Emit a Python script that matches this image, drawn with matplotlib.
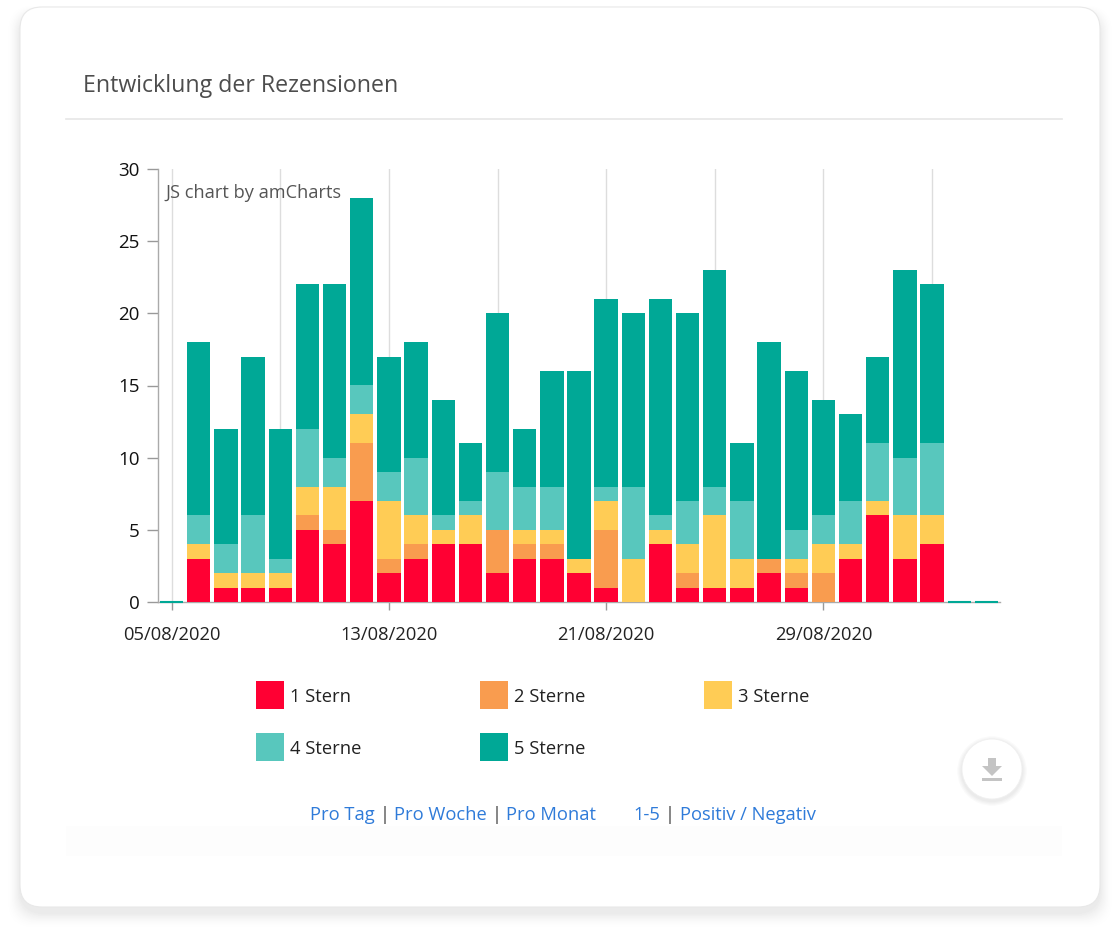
import matplotlib
matplotlib.use('Agg')
import matplotlib.pyplot as plt
from matplotlib.patches import Circle, FancyBboxPatch, Polygon, Rectangle
import numpy as np

plt.rcParams['font.family'] = ['Open Sans', 'DejaVu Sans']

W, H = 1120, 941

# 05/08/2020 - 04/09/2020
tage = ['05/08/2020', '06/08/2020', '07/08/2020', '08/08/2020', '09/08/2020', '10/08/2020', '11/08/2020', '12/08/2020',
        '13/08/2020', '14/08/2020', '15/08/2020', '16/08/2020', '17/08/2020', '18/08/2020', '19/08/2020', '20/08/2020',
        '21/08/2020', '22/08/2020', '23/08/2020', '24/08/2020', '25/08/2020', '26/08/2020', '27/08/2020', '28/08/2020',
        '29/08/2020', '30/08/2020', '31/08/2020', '01/09/2020', '02/09/2020', '03/09/2020', '04/09/2020']

stern1 = [0, 3, 1, 1, 1, 5, 4, 7, 2, 3, 4, 4, 2, 3, 3, 2, 1, 0, 4, 1, 1, 1, 2, 1, 0, 3, 6, 3, 4, 0, 0]
stern2 = [0, 0, 0, 0, 0, 1, 1, 4, 1, 1, 0, 0, 3, 1, 1, 0, 4, 0, 0, 1, 0, 0, 1, 1, 2, 0, 0, 0, 0, 0, 0]
stern3 = [0, 1, 1, 1, 1, 2, 3, 2, 4, 2, 1, 2, 0, 1, 1, 1, 2, 3, 1, 2, 5, 2, 0, 1, 2, 1, 1, 3, 2, 0, 0]
stern4 = [0, 2, 2, 4, 1, 4, 2, 2, 2, 4, 1, 1, 4, 3, 3, 0, 1, 5, 1, 3, 2, 4, 0, 2, 2, 3, 4, 4, 5, 0, 0]
stern5 = [0, 12, 8, 11, 9, 10, 12, 13, 8, 8, 8, 4, 11, 4, 8, 13, 13, 12, 15, 13, 15, 4, 15, 11, 8, 6, 6, 13, 11, 0, 0]

serien = [stern1, stern2, stern3, stern4, stern5]
namen = ['1 Stern', '2 Sterne', '3 Sterne', '4 Sterne', '5 Sterne']
farben = ['#ff0033', '#f99c4f', '#ffcc55', '#58c7bd', '#00a896']

y_ticks = [0, 5, 10, 15, 20, 25, 30]


def px_rect(left, top, right, bottom):
    return [left / W, 1 - bottom / H, (right - left) / W, (bottom - top) / H]


fig = plt.figure(figsize=(W / 100, H / 100), dpi=100, facecolor='white')

# card, shadow, legend and links are drawn in pixel coords
bg = fig.add_axes([0, 0, 1, 1], zorder=0)
bg.set_xlim(0, W)
bg.set_ylim(H, 0)
bg.axis('off')

# opaque grey steps, very low alpha rounds away to nothing
for grow in range(28, 0, -1):
    grau = str(1 - 0.085 * ((28 - grow) / 28) ** 2)
    bg.add_patch(FancyBboxPatch((20 - grow * 0.5, 7 + 6 - grow * 0.3), 1080 + grow * 1.0, 900 + grow * 0.9,
                                boxstyle='round,pad=0,rounding_size=26', fc=grau, ec='none'))
bg.add_patch(FancyBboxPatch((20, 7), 1080, 900, boxstyle='round,pad=0,rounding_size=22',
                            fc='white', ec='#e8e8e8', lw=0.8))

# faint fade under the links
bg.add_patch(Rectangle((66, 826), 996, 30, fc='#fdfdfd', ec='none'))

bg.plot([66, 1062], [118.5, 118.5], color='#e6e6e6', lw=1.2)
bg.text(83, 86, 'Entwicklung der Rezensionen', fontsize=16.7, color='#4d4d4d', va='center', ha='left')

# legend
leg_x = [256, 480, 704, 256, 480]
leg_y = [695, 695, 695, 747, 747]
for name, farbe, lx, ly in zip(namen, farben, leg_x, leg_y):
    bg.add_patch(Rectangle((lx, ly - 14), 28, 28, fc=farbe, ec='none'))
    bg.text(lx + 34.5, ly + 2, name, fontsize=13.2, color='#222222', va='center', ha='left')

# links
links = [(310, 'Pro Tag'), (394, 'Pro Woche'), (506, 'Pro Monat'), (633, '1-5'), (680, 'Positiv / Negativ')]
for lx, txt in links:
    bg.text(lx, 815, txt, fontsize=13.2, color='#2f7bd9', va='center', ha='left')
for lx in [385, 496.5, 669.5]:
    bg.text(lx, 815, '|', fontsize=13.2, color='#444444', va='center', ha='center')

# download button
for grow in range(8, 0, -2):
    bg.add_patch(Circle((992, 771), 30 + grow * 0.6, fc='black', ec='none', alpha=0.02))
bg.add_patch(Circle((992, 769), 30, fc='white', ec='#f0f0f0', lw=0.6))
bg.add_patch(Polygon([(988, 758), (996, 758), (996, 766), (1002, 766), (992, 776), (982, 766), (988, 766)],
                     fc='#c4c4c4', ec='none'))
bg.add_patch(Rectangle((982, 778), 20, 3, fc='#c4c4c4', ec='none'))

# chart
ax = fig.add_axes(px_rect(158, 169, 1000, 602), zorder=1)
ax.patch.set_alpha(0)
x = np.arange(len(tage))
unten = np.zeros(len(tage))
for werte, name, farbe in zip(serien, namen, farben):
    ax.bar(x, werte, 0.86, bottom=unten, color=farbe, label=name, zorder=3)
    unten = unten + np.array(werte)

# leere Tage: thin teal line on the baseline
leer = x[unten == 0]
ax.hlines(np.zeros(len(leer)), leer - 0.43, leer + 0.43, color=farben[4], lw=1.5, zorder=5, clip_on=False)

ax.set_xlim(-0.5, len(tage) - 0.5)
ax.set_ylim(0, 30)
ax.set_yticks(y_ticks)
ax.set_xticks(x[::8])
ax.set_xticklabels(tage[::8])
ax.set_xticks(x[4::8], minor=True)
ax.grid(axis='x', which='both', color='#dddddd', lw=1, zorder=1)
ax.set_axisbelow(True)

ax.tick_params(axis='y', length=8, width=1, color='#999999', labelsize=13.5, labelcolor='#111111', pad=5)
ax.tick_params(axis='x', which='major', length=6, width=1, color='#999999', labelsize=13.2, labelcolor='#222222', pad=11.5)
ax.tick_params(axis='x', which='minor', length=0)

for side in ['top', 'right']:
    ax.spines[side].set_visible(False)
for side in ['left', 'bottom']:
    ax.spines[side].set_color('#aaaaaa')
    ax.spines[side].set_linewidth(1)

ax.text(165.5, 192.5, 'JS chart by amCharts', transform=bg.transData, fontsize=13.15, color='#555555',
        va='center', ha='left', zorder=6)

fig.savefig('out.png', dpi=100)
